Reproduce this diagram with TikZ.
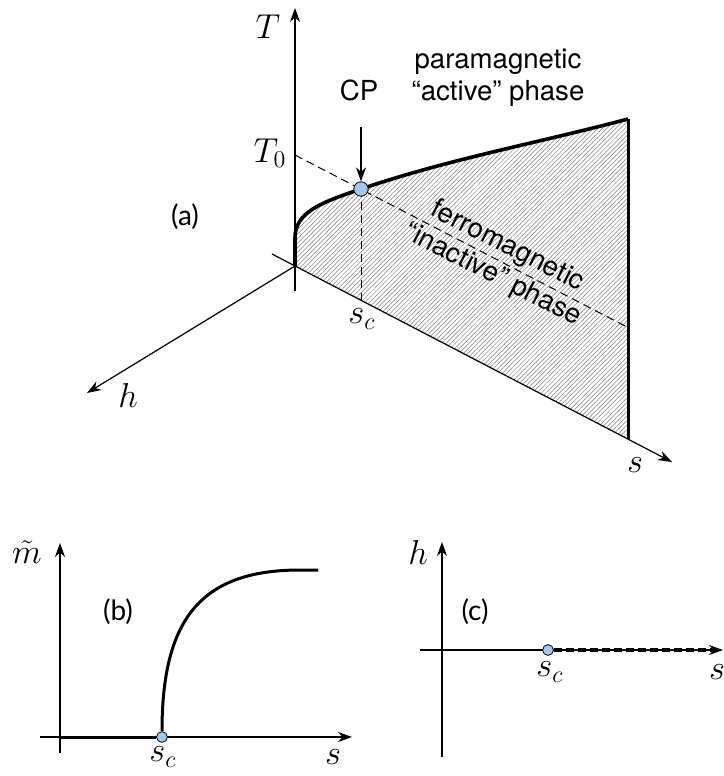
\documentclass[tikz,border=0pt]{standalone}
\usepackage{fontspec}
\setmainfont{TeX Gyre Heros}
\newfontfamily\panelfont{Lato}
\usetikzlibrary{arrows.meta, patterns.meta, positioning, calc}
\definecolor{cpblue}{RGB}{160,200,240}

\begin{document}
\begin{tikzpicture}[
        x=0.5pt, y=-0.5pt,
        axis/.style={line width=0.6pt, -{Stealth[length=7pt, width=5pt]}},
        boundary/.style={line width=1.8pt},
        guide/.style={line width=0.5pt, dash pattern=on 4pt off 2.5pt},
        critdot/.style={circle, draw, line width=0.4pt, fill=cpblue, inner sep=0pt, minimum size=#1},
        phase/.style={font=\fontsize{13.8}{16}\selectfont, align=center},
        panel/.style={font=\panelfont\fontsize{14}{16}\selectfont},
        lab/.style={font=\LARGE}
        ]
        \useasboundingbox (0,0) rectangle (723,776);

        % (a) phase diagram in (h,s,T)
        \coordinate (O) at (295,266);
        \coordinate (Ttop) at (295,8);
        \coordinate (Tbot) at (295,291);
        \coordinate (hend) at (87,393);
        \coordinate (sback) at (272,254);
        \coordinate (send) at (672,462);
        \coordinate (kink) at (295,238);
        \coordinate (cpc) at (361,189);
        \coordinate (top) at (628,119);
        \coordinate (foot) at (628,439);
        \coordinate (T0) at (295,155);
        \coordinate (T0end) at (627,327);
        \coordinate (scfoot) at (361,300);
        \coordinate (cpfrom) at (361,127);

        \fill[pattern={Lines[angle=45, distance=1.6pt, line width=0.25pt]}, pattern color=black!50]
            (O) -- (kink) .. controls (295,212) and (321,202.6) .. (cpc)
            .. controls (451,158.5) and (538,143) .. (top) -- (foot) -- cycle;

        \draw[axis] (Tbot) -- (Ttop);
        \draw[axis] (O) -- (hend);
        \draw[axis] (sback) -- (send);
        \draw[guide] (T0) -- (T0end);
        \draw[guide] (cpc) -- (scfoot);
        \draw[boundary] (O) -- (kink) .. controls (295,212) and (321,202.6) .. (cpc)
            .. controls (451,158.5) and (538,143) .. (top);
        \draw[line width=1.5pt] (top) -- (foot);
        \node[critdot=7.2pt] (cp) at (cpc) {};

        \node[lab] (Tlab) at (268,27) {$T$};
        \node[lab] (T0lab) at (270,153) {$T_0$};
        \node[lab] (hlab) at (128,395) {$h$};
        \node[lab] (slab) at (635,465) {$s$};
        \node[lab] (sclab) at (362,319) {$s_c$};
        \node[phase] (cplab) at (359,90) {CP};
        \node[phase] (para) at (498,78) {paramagnetic\\``active'' phase};
        \node[phase, rotate=-27] (ferro) at (500,261) {ferromagnetic\\``inactive'' phase};
        \node[panel] (alab) at (185,217) {(a)};
        \draw[axis] (cpfrom) -- (cp);

        % (b) order parameter
        \coordinate (bO) at (60,737);
        \coordinate (bytop) at (60,543);
        \coordinate (bybot) at (60,753);
        \coordinate (bxbeg) at (40,737);
        \coordinate (bxend) at (352,737);
        \coordinate (bend) at (318,570);
        \draw[axis] (bybot) -- (bytop);
        \draw[axis] (bxbeg) -- (bxend);
        \node[critdot=5.4pt] (bsc) at (162,737) {};
        \draw[line width=1.5pt] (bO) -- (bsc.west);
        \draw[line width=1.5pt] (bsc.north) .. controls (162,620) and (200,570) .. (300,570) -- (bend);
        \node[lab] (mlab) at (27,552) {$\tilde m$};
        \node[panel] (blab) at (118,612) {(b)};
        \node[lab] (bsclab) at (163,757) {$s_c$};
        \node[lab] (bslab) at (333,757) {$s$};

        % (c) field
        \coordinate (cytop) at (442,542);
        \coordinate (cybot) at (442,757);
        \coordinate (cxbeg) at (420,650);
        \coordinate (cxend) at (723,650);
        \coordinate (cdash) at (712,650);
        \draw[axis] (cybot) -- (cytop);
        \draw[axis] (cxbeg) -- (cxend);
        \node[critdot=5.4pt] (csc) at (548,650) {};
        \draw[line width=1.8pt, dash pattern=on 4pt off 2pt] (csc.east) -- (cdash);
        \node[lab] (chlab) at (418,552) {$h$};
        \node[panel] (clab) at (475,612) {(c)};
        \node[lab] (csclab) at (550,672) {$s_c$};
        \node[lab] (cslab) at (717,672) {$s$};
\end{tikzpicture}
\end{document}
